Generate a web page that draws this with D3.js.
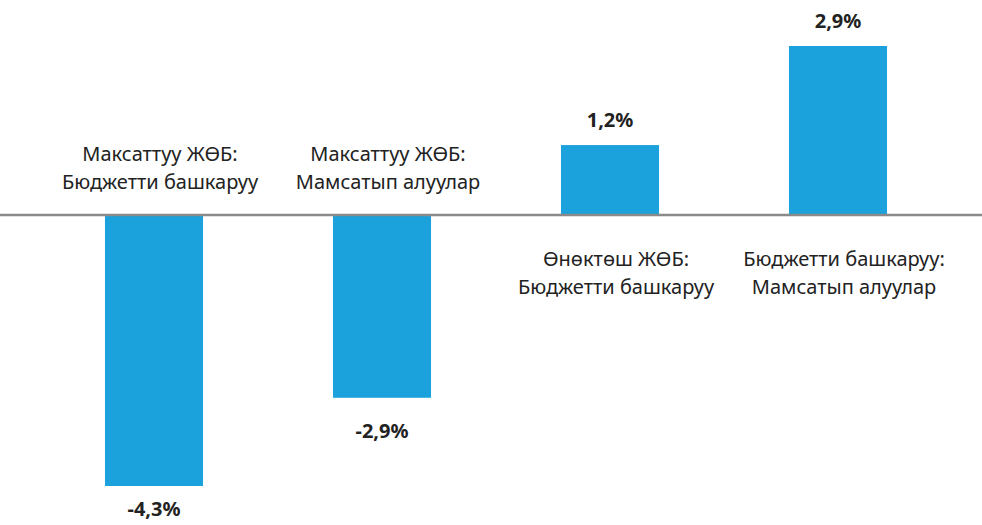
<!DOCTYPE html>
<html>
<head>
<meta charset="utf-8">
<script src="https://cdn.jsdelivr.net/npm/d3@7"></script>
<style>
  body { margin: 0; background: #fff; }
  text { font-family: "Noto Sans", "Open Sans", sans-serif; fill: #222; }
  .value { font-weight: bold; font-size: 20px; }
  .cat { font-size: 20px; }
</style>
</head>
<body>
<div id="chart"></div>
<script>
// data
var categories = [
    ["Максаттуу ЖӨБ:", "Бюджетти башкаруу"],
    ["Максаттуу ЖӨБ:", "Мамсатып алуулар"],
    ["Өнөктөш ЖӨБ:", "Бюджетти башкаруу"],
    ["Бюджетти башкаруу:", "Мамсатып алуулар"]
];
var values = [-4.3, -2.9, 1.2, 2.9];
var valueLabels = ["-4,3%", "-2,9%", "1,2%", "2,9%"];

var W = 982, H = 525;

var svg = d3.select("#chart").append("svg")
    .attr("width", W)
    .attr("height", H);

var x = d3.scaleBand()
    .domain(d3.range(values.length))
    .range([40, 952])
    .paddingInner(0.57)
    .paddingOuter(0.285);

// the source picture stretches negatives a little more than positives
var y = d3.scaleLinear()
    .domain([-4.3, 0, 2.9])
    .range([486, 215, 46]);

// bars
svg.selectAll(".bar").data(values).enter().append("rect")
    .attr("class", "bar")
    .attr("x", function (d, i) { return x(i); })
    .attr("width", x.bandwidth())
    .attr("y", function (d) { return Math.min(y(d), y(0)); })
    .attr("height", function (d) { return Math.abs(y(d) - y(0)); })
    .attr("fill", "#1ba1db");

// zero line
svg.append("line")
    .attr("x1", 0).attr("x2", W)
    .attr("y1", y(0)).attr("y2", y(0))
    .attr("stroke", "#8a8a8a")
    .attr("stroke-width", 2.5);

// value labels
svg.selectAll(".value").data(values).enter().append("text")
    .attr("class", "value")
    .attr("text-anchor", "middle")
    .attr("x", function (d, i) { return x(i) + x.bandwidth() / 2; })
    .attr("y", function (d) { return d < 0 ? Math.min(y(d) + 40, H - 9) : y(d) - 18; })
    .text(function (d, i) { return valueLabels[i]; });

// category labels, on the opposite side of the zero line
var cat = svg.selectAll(".cat").data(categories).enter().append("text")
    .attr("class", "cat")
    .attr("text-anchor", "middle")
    .attr("transform", function (d, i) {
        var cx = x(i) + x.bandwidth() / 2 + 6;
        var cy = values[i] < 0 ? y(0) - 54 : y(0) + 51;
        return "translate(" + cx + "," + cy + ")";
    });
cat.selectAll("tspan").data(function (d) { return d; }).enter().append("tspan")
    .attr("x", 0)
    .attr("dy", function (d, j) { return j ? 28 : 0; })
    .text(function (d) { return d; });
</script>
</body>
</html>
